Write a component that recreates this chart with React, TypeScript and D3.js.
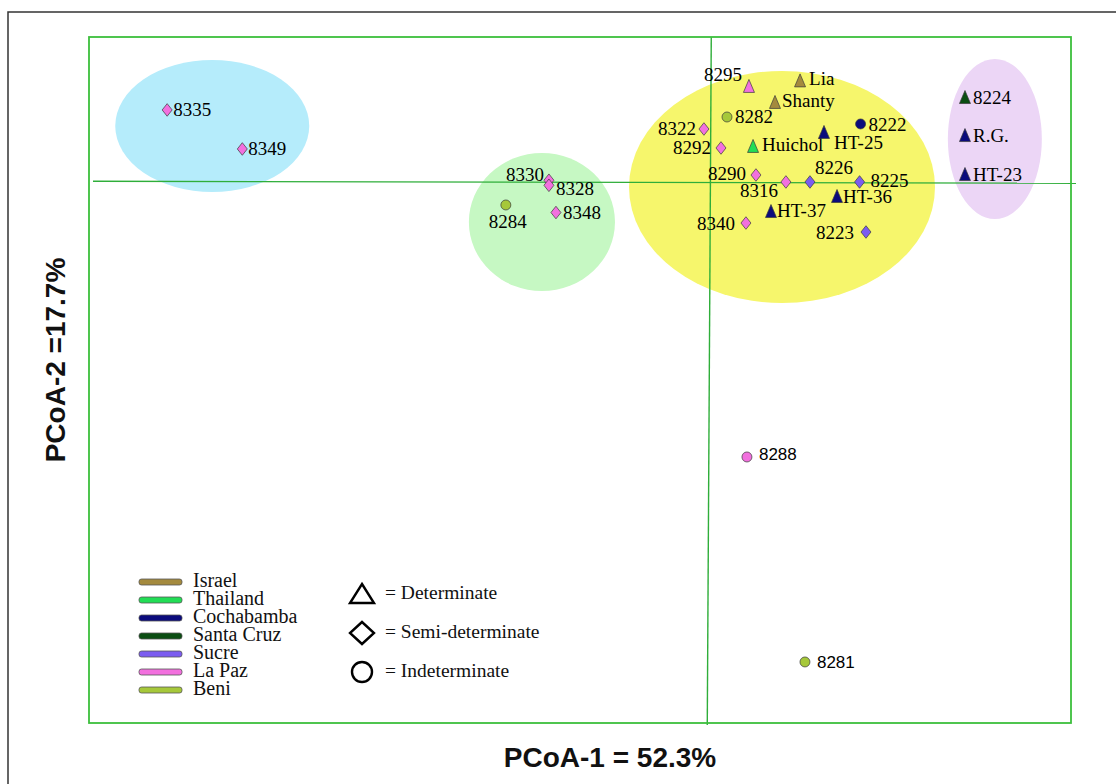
import * as d3 from 'd3'

// PCoA coordinates
const samples = [
  '8335', '8349', '8330', '8328', '8284', '8348',
  '8295', 'Lia', 'Shanty', '8282', '8322', '8292', 'Huichol', 'HT-25', '8222',
  '8290', '8316', '8226', '8225', 'HT-36', 'HT-37', '8340', '8223',
  '8224', 'R.G.', 'HT-23', '8288', '8281',
]
const pc1 = [
  -0.542, -0.467, -0.161, -0.161, -0.204, -0.154,
  0.0386, 0.0896, 0.0646, 0.0167, -0.0063, 0.0107, 0.0427, 0.1135, 0.15,
  0.0456, 0.0755, 0.0995, 0.149, 0.1265, 0.0606, 0.0356, 0.1554,
  0.2542, 0.2542, 0.2542, 0.0366, 0.0945,
]
const pc2 = [
  0.0707, 0.032, 0.001, -0.004, -0.0235, -0.031,
  0.0945, 0.1, 0.0786, 0.0637, 0.0518, 0.033, 0.035, 0.0489, 0.0568,
  0.0062, -0.0007, -0.0007, -0.0007, -0.0146, -0.0295, -0.0414, -0.0503,
  0.0835, 0.0458, 0.0072, -0.2733, -0.4765,
]
const origin = [
  'La Paz', 'La Paz', 'La Paz', 'La Paz', 'Beni', 'La Paz',
  'La Paz', 'Israel', 'Israel', 'Beni', 'La Paz', 'La Paz', 'Thailand', 'Cochabamba', 'Cochabamba',
  'La Paz', 'La Paz', 'Sucre', 'Sucre', 'Cochabamba', 'Cochabamba', 'La Paz', 'Sucre',
  'Santa Cruz', 'Cochabamba', 'Cochabamba', 'La Paz', 'Beni',
]
const habit = [
  'S', 'S', 'S', 'S', 'I', 'S',
  'D', 'D', 'D', 'I', 'S', 'S', 'D', 'D', 'I',
  'S', 'S', 'S', 'S', 'D', 'D', 'S', 'S',
  'D', 'D', 'D', 'I', 'I',
]

const regions = ['Israel', 'Thailand', 'Cochabamba', 'Santa Cruz', 'Sucre', 'La Paz', 'Beni']
const regionColors = ['#a48a3e', '#22dd55', '#0b0b7c', '#0b4d12', '#7b5cf0', '#f270de', '#a6c83a']

const habitNames = ['D', 'S', 'I']
const habitLabels = ['= Determinate', '= Semi-determinate', '= Indeterminate']

// cluster ellipses: centre and radii in PCoA units
const clusterCx = [-0.497, -0.168, 0.0716, 0.284]
const clusterCy = [0.0548, -0.0404, -0.0057, 0.0419]
const clusterRx = [0.0968, 0.0729, 0.1527, 0.0469]
const clusterRy = [0.0654, 0.0684, 0.115, 0.0793]
const clusterFill = ['#b5ecfb', '#c6f8c3', '#f6f66c', '#ecd6f6']

// label placement [dx, dy, anchor]
const labelLayout: Record<string, [number, number, string]> = {
  '8335': [6, 6, 'start'],
  '8349': [6, 6, 'start'],
  '8330': [-5, 1, 'end'],
  '8328': [7, 10, 'start'],
  '8284': [2, 23, 'middle'],
  '8348': [7, 6, 'start'],
  '8295': [-7, -5, 'end'],
  Lia: [9, 5, 'start'],
  Shanty: [7, 5, 'start'],
  '8282': [8, 6, 'start'],
  '8322': [-8, 6, 'end'],
  '8292': [-10, 6, 'end'],
  Huichol: [9, 5, 'start'],
  'HT-25': [10, 17, 'start'],
  '8222': [8, 7, 'start'],
  '8290': [-10, 5, 'end'],
  '8316': [-8, 15, 'end'],
  '8226': [5, -8, 'start'],
  '8225': [11, 5, 'start'],
  'HT-36': [6, 7, 'start'],
  'HT-37': [6, 6, 'start'],
  '8340': [-11, 7, 'end'],
  '8223': [-12, 7, 'end'],
  '8224': [8, 7, 'start'],
  'R.G.': [8, 7, 'start'],
  'HT-23': [8, 7, 'start'],
  '8288': [12, 3, 'start'],
  '8281': [12, 6, 'start'],
}
const sansLabels = ['8288', '8281']

const W = 1116
const H = 784
const box = { left: 89, right: 1071, top: 37, bottom: 723 }

const x = d3.scaleLinear().domain([-0.62, 0.36]).range([box.left, box.right])
const y = d3.scaleLinear().domain([-0.537, 0.143]).range([box.bottom, box.top])
const color = d3.scaleOrdinal<string, string>().domain(regions).range(regionColors)

function shapePath(h: string, s = 1) {
  if (h === 'D') {
    const w = 5.5 * s
    const t = 6.5 * s
    return `M0,${-t}L${w},${t}L${-w},${t}Z`
  }
  if (h === 'S') {
    const w = 5 * s
    const t = 6.3 * s
    return `M0,${-t}L${w},0L0,${t}L${-w},0Z`
  }
  return d3.arc()({ innerRadius: 0, outerRadius: 5 * s, startAngle: 0, endAngle: 2 * Math.PI }) || ''
}

const serif = '"Liberation Serif", "Times New Roman", serif'
const sans = '"Liberation Sans", Arial, sans-serif'

export default function App() {
  const ox = x(0)
  const oy = y(0)
  return (
    <svg
      width={W}
      height={H}
      style={{ position: 'absolute', left: 0, top: 0, background: '#fff' }}
    >
      {/* outer frame */}
      <rect x={8} y={12} width={W + 20} height={H + 20} fill="none" stroke="#333" strokeWidth={1.5} />

      {clusterCx.map((cx, i) => (
        <ellipse
          key={i}
          cx={x(cx)}
          cy={y(clusterCy[i])}
          rx={x(clusterRx[i]) - x(0)}
          ry={y(0) - y(clusterRy[i])}
          fill={clusterFill[i]}
        />
      ))}

      {/* axes through origin */}
      <line x1={box.left + 4} x2={box.right + 5} y1={oy} y2={oy + 2} stroke="#2fae3a" strokeWidth={1.4} />
      <line x1={ox + 1} x2={ox - 3} y1={box.top} y2={box.bottom + 2} stroke="#2fae3a" strokeWidth={1.4} />

      <rect
        x={box.left}
        y={box.top}
        width={box.right - box.left}
        height={box.bottom - box.top}
        fill="none"
        stroke="#3cbf3c"
        strokeWidth={1.8}
      />

      {samples.map((name, i) => {
        const [dx, dy, anchor] = labelLayout[name]
        const px = x(pc1[i])
        const py = y(pc2[i])
        const isSans = sansLabels.includes(name)
        return (
          <g key={name}>
            <path
              d={shapePath(habit[i])}
              transform={`translate(${px},${py})`}
              fill={color(origin[i])}
              stroke="#3a3a3a"
              strokeWidth={0.7}
            />
            <text
              x={px + dx}
              y={py + dy}
              textAnchor={anchor}
              fontFamily={isSans ? sans : serif}
              fontSize={isSans ? 17 : 19}
              fill="#000"
            >
              {name}
            </text>
          </g>
        )
      })}

      {/* colour legend */}
      {regions.map((r, i) => (
        <g key={r} transform={`translate(139,${582 + i * 18})`}>
          <rect x={0} y={-3} width={43} height={6} rx={2.5} fill={regionColors[i]} stroke="#555" strokeWidth={0.8} />
          <text x={54} y={5} fontFamily={serif} fontSize={20} fill="#111">
            {r}
          </text>
        </g>
      ))}

      {/* shape legend */}
      {habitNames.map((h, i) => (
        <g key={h} transform={`translate(362,${594 + i * 39})`}>
          <path
            d={h === 'I' ? shapePath(h, 2) : h === 'D' ? 'M0,-10L12,9L-12,9Z' : 'M0,-11L12,0L0,11L-12,0Z'}
            fill="#fff"
            stroke="#000"
            strokeWidth={2.4}
            strokeLinejoin="miter"
          />
          <text x={23} y={5} fontFamily={serif} fontSize={19.5} fill="#111">
            {habitLabels[i]}
          </text>
        </g>
      ))}

      <text x={610} y={767} textAnchor="middle" fontFamily={sans} fontWeight="bold" fontSize={28} fill="#111">
        PCoA-1 = 52.3%
      </text>
      <text
        transform="translate(65,360) rotate(-90)"
        textAnchor="middle"
        fontFamily={sans}
        fontWeight="bold"
        fontSize={28}
        fill="#111"
      >
        PCoA-2 =17.7%
      </text>
    </svg>
  )
}
